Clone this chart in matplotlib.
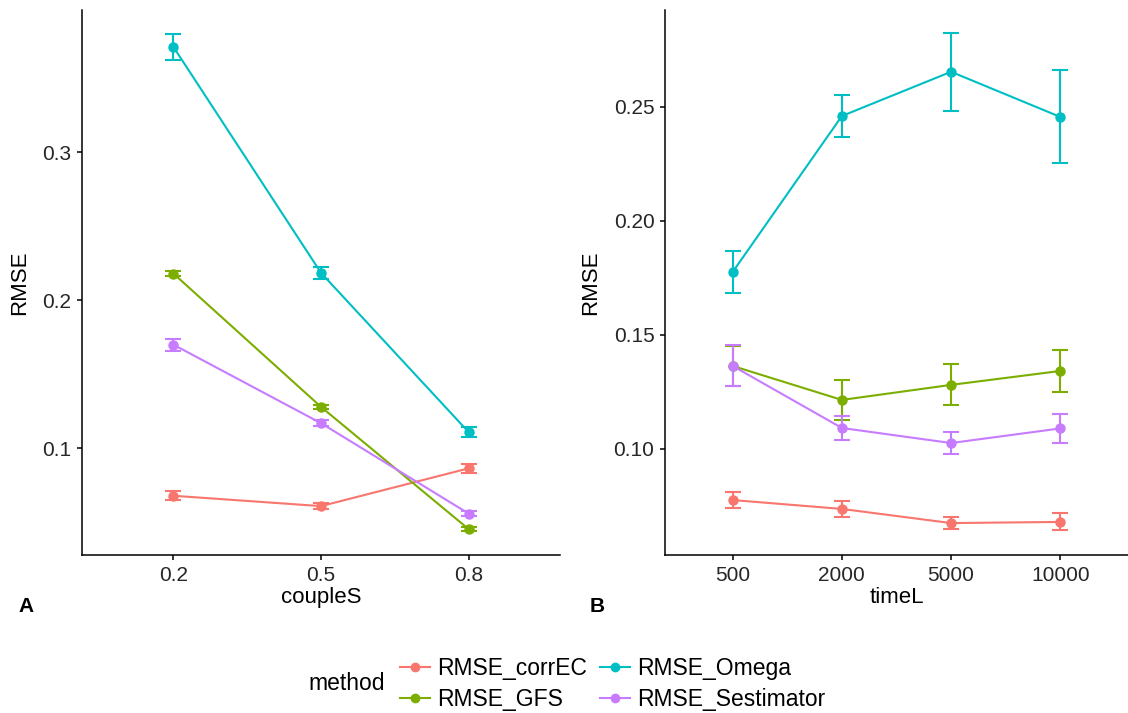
import numpy as np
import matplotlib.pyplot as plt
from matplotlib.lines import Line2D

plt.rcParams['font.family'] = ['Liberation Sans', 'DejaVu Sans']

# ggplot default hue palette
methods = ['RMSE_corrEC', 'RMSE_GFS', 'RMSE_Omega', 'RMSE_Sestimator']
colors = ['#F8766D', '#7CAE00', '#00BFC4', '#C77CFF']

# Panel A: coupleS
couple_labels = ['0.2', '0.5', '0.8']
couple_mean = {
    'RMSE_corrEC': [0.068, 0.061, 0.0865],
    'RMSE_GFS': [0.218, 0.128, 0.0455],
    'RMSE_Omega': [0.371, 0.2185, 0.111],
    'RMSE_Sestimator': [0.170, 0.117, 0.056],
}
couple_err = {
    'RMSE_corrEC': [0.003, 0.002, 0.003],
    'RMSE_GFS': [0.0015, 0.0015, 0.0015],
    'RMSE_Omega': [0.0085, 0.004, 0.0035],
    'RMSE_Sestimator': [0.004, 0.002, 0.0015],
}

# Panel B: timeL
time_labels = ['500', '2000', '5000', '10000']
time_mean = {
    'RMSE_corrEC': [0.0776, 0.0737, 0.0675, 0.068],
    'RMSE_GFS': [0.1364, 0.1215, 0.1281, 0.1342],
    'RMSE_Omega': [0.1776, 0.246, 0.2654, 0.2456],
    'RMSE_Sestimator': [0.1364, 0.1092, 0.1026, 0.109],
}
time_err = {
    'RMSE_corrEC': [0.0036, 0.0035, 0.0027, 0.0037],
    'RMSE_GFS': [0.0088, 0.0088, 0.009, 0.0092],
    'RMSE_Omega': [0.0094, 0.0092, 0.0171, 0.0204],
    'RMSE_Sestimator': [0.0090, 0.0053, 0.0050, 0.0063],
}

fig = plt.figure(figsize=(11.28, 7.13), dpi=100)
axA = fig.add_axes([0.0727, 0.2216, 0.4238, 0.7644])
axB = fig.add_axes([0.5895, 0.2216, 0.4105, 0.7644])


def draw_panel(ax, labels, means, errs, xlabel, ylim, yticks, ytick_fmt,
               ylab_x):
    x = np.arange(len(labels))
    for m, c in zip(methods, colors):
        ax.errorbar(x, means[m], yerr=errs[m], color=c, lw=1.5,
                    marker='o', markersize=6.5, capsize=6, capthick=1.5,
                    elinewidth=1.5)
    ax.set_xticks(x)
    ax.set_xticklabels(labels)
    ax.set_xlim(-0.62, len(labels) - 1 + 0.62)
    ax.set_ylim(*ylim)
    ax.set_yticks(yticks)
    ax.set_yticklabels([ytick_fmt.format(v) for v in yticks])
    ax.set_xlabel(xlabel, fontsize=16, color='black', labelpad=2)
    ax.set_ylabel('RMSE', fontsize=16, color='black')
    ax.yaxis.set_label_coords(ylab_x, 0.5)
    for s in ['top', 'right']:
        ax.spines[s].set_visible(False)
    for s in ['left', 'bottom']:
        ax.spines[s].set_linewidth(1.1)
    ax.tick_params(labelsize=15, length=3.6, width=1.1, pad=4,
                   colors='black', labelcolor='#262626')


draw_panel(axA, couple_labels, couple_mean, couple_err, 'coupleS',
           (0.028, 0.396), [0.1, 0.2, 0.3], '{:.1f}', -0.109)
draw_panel(axB, time_labels, time_mean, time_err, 'timeL',
           (0.0535, 0.2925), [0.10, 0.15, 0.20, 0.25], '{:.2f}', -0.138)

fig.text(0.016, 0.149, 'A', fontsize=15, fontweight='bold', va='center')
fig.text(0.523, 0.149, 'B', fontsize=15, fontweight='bold', va='center')

# legend
handles = [Line2D([0], [0], color=c, lw=1.5, marker='o', markersize=6)
           for c in colors]
fig.text(0.3413, 0.0407, 'method', fontsize=16.5, ha='right', va='center')
fig.legend(handles, methods, ncol=2, loc='center left',
           bbox_to_anchor=(0.3546, 0.0407), frameon=False, fontsize=16.5,
           handlelength=1.3, handletextpad=0.3, columnspacing=0.6,
           labelspacing=0.35, borderaxespad=0, borderpad=0)

fig.savefig('out.png', dpi=100)
